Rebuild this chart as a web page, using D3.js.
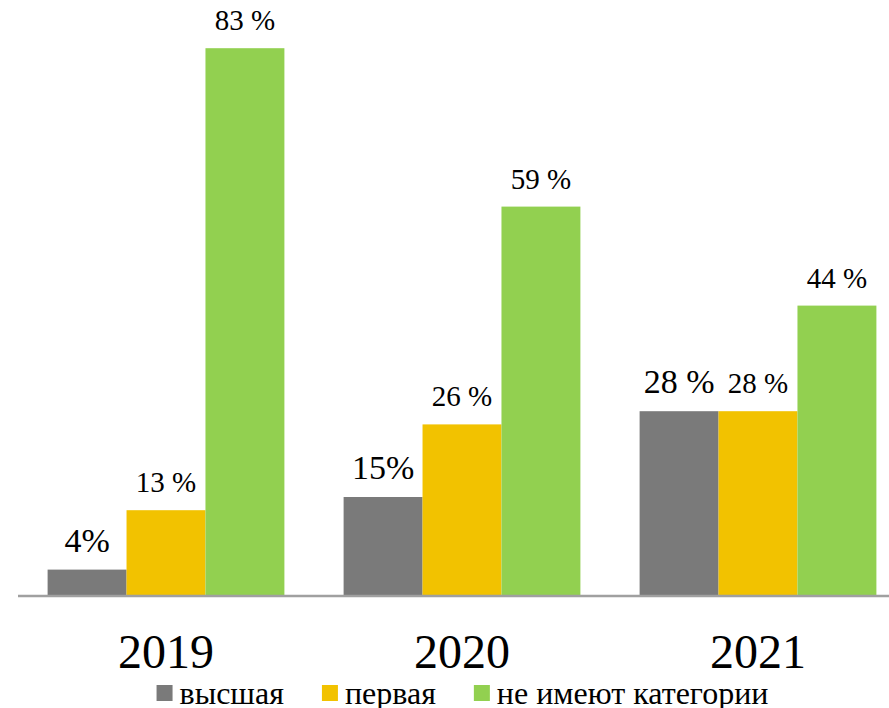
<!DOCTYPE html>
<html>
<head>
<meta charset="utf-8">
<script src="https://cdn.jsdelivr.net/npm/d3@7"></script>
<style>
  html, body { margin: 0; padding: 0; background: #ffffff; }
  svg { display: block; }
</style>
</head>
<body>
<svg id="chart" width="889" height="708"></svg>
<script>
// ---- data ----
const years = ["2019", "2020", "2021"];
const seriesNames = ["высшая", "первая", "не имеют категории"];
const seriesColors = ["#7a7a7a", "#f2c200", "#92d050"];
const valuesHigh  = [4, 15, 28];
const valuesFirst = [13, 26, 28];
const valuesNone  = [83, 59, 44];
const labelsHigh  = ["4%", "15%", "28 %"];
const labelsFirst = ["13 %", "26 %", "28 %"];
const labelsNone  = ["83 %", "59 %", "44 %"];

const seriesValues = [valuesHigh, valuesFirst, valuesNone];
const seriesLabels = [labelsHigh, labelsFirst, labelsNone];
const labelSizes = [34, 29, 29];

const svg = d3.select("#chart");
const font = "Liberation Serif";

const x0 = d3.scaleBand().domain(years).range([18, 906]).paddingInner(0.2).paddingOuter(0.1);
const x1 = d3.scaleBand().domain(d3.range(seriesNames.length)).range([0, x0.bandwidth()]);
const y = d3.scaleLinear().domain([0, 90]).range([596, 2]);

// bars
const groups = svg.selectAll("g.grp").data(years).join("g")
  .attr("class", "grp")
  .attr("transform", d => `translate(${x0(d)},0)`);

seriesNames.forEach((name, si) => {
  groups.append("rect")
    .attr("x", x1(si))
    .attr("width", x1.bandwidth())
    .attr("y", (d, i) => y(seriesValues[si][i]))
    .attr("height", (d, i) => y(0) - y(seriesValues[si][i]))
    .attr("fill", seriesColors[si]);
  groups.append("text")
    .attr("x", x1(si) + x1.bandwidth() / 2)
    .attr("y", (d, i) => y(seriesValues[si][i]) - 18)
    .attr("text-anchor", "middle")
    .style("font-family", font)
    .style("font-size", labelSizes[si] + "px")
    .attr("fill", "#000")
    .text((d, i) => seriesLabels[si][i]);
});

// axis baseline
const xAxis = d3.axisBottom(x0).tickSize(0).tickPadding(0);
const axisG = svg.append("g").attr("transform", `translate(0,${y(0)})`).call(xAxis);
axisG.attr("font-family", null).attr("font-size", null);
axisG.select(".domain").attr("d", "M18,0H889").attr("stroke", "#a0a0a0").attr("stroke-width", 2.5);
axisG.selectAll(".tick text")
  .attr("y", 72)
  .attr("dy", 0)
  .style("font-family", font)
  .style("font-size", "48px")
  .attr("fill", "#000");

// legend
const legend = svg.append("g").attr("class", "legend");
const items = legend.selectAll("g").data(seriesNames).join("g");
items.append("rect")
  .attr("width", 16).attr("height", 16)
  .attr("y", 685)
  .attr("fill", (d, i) => seriesColors[i]);
items.append("text")
  .attr("x", 23)
  .attr("y", 704)
  .style("font-family", font)
  .style("font-size", "32px")
  .attr("fill", "#000")
  .text(d => d);
const gap = 38;
let widths = [];
items.each(function () { widths.push(23 + d3.select(this).select("text").node().getComputedTextLength()); });
const total = d3.sum(widths) + gap * (widths.length - 1);
let cx = 462.5 - total / 2;
items.attr("transform", (d, i) => {
  const t = `translate(${cx},0)`;
  cx += widths[i] + gap;
  return t;
});
</script>
</body>
</html>
